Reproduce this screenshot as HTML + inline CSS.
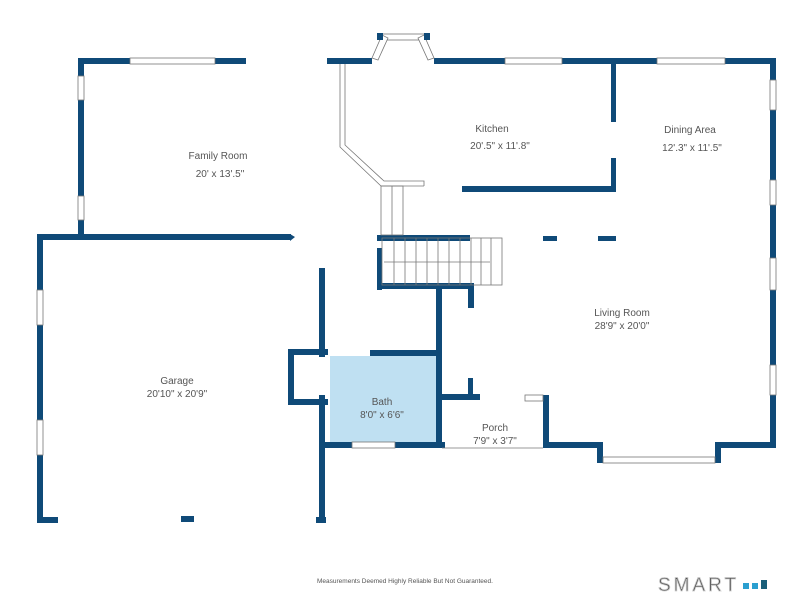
<!DOCTYPE html>
<html><head><meta charset="utf-8"><style>
html,body{margin:0;padding:0;background:#fff;}
svg{display:block;}
text{font-family:"Liberation Sans",sans-serif;fill:#555;}
</style></head><body>
<svg width="792" height="612" viewBox="0 0 792 612" xmlns="http://www.w3.org/2000/svg">
<rect width="792" height="612" fill="#fff"/>
<!-- bath fill -->
<rect x="330" y="356" width="108" height="86" fill="#bfe0f2"/>
<g fill="#0f4a78">
<!-- family room -->
<rect x="78" y="58" width="168" height="6"/>
<rect x="78" y="58" width="6" height="180"/>
<!-- garage -->
<rect x="37" y="234" width="254" height="6"/>
<polygon points="290,234 295,237 290,241"/>
<rect x="37" y="234" width="6" height="289"/>
<rect x="37" y="517" width="21" height="6"/>
<rect x="181" y="516" width="13" height="6"/>
<rect x="319" y="268" width="6" height="89"/>
<rect x="319" y="395" width="6" height="128"/>
<rect x="316" y="517" width="10" height="6"/>
<!-- bath box -->
<rect x="288" y="349" width="6" height="56"/>
<rect x="288" y="349" width="40" height="6"/>
<rect x="288" y="399" width="40" height="6"/>
<rect x="370" y="350" width="70" height="6"/>
<rect x="436" y="285" width="6" height="162"/>
<rect x="325" y="442" width="27" height="6"/>
<rect x="395" y="442" width="50" height="6"/>
<!-- stairs walls -->
<rect x="377" y="235" width="93" height="6"/>
<rect x="377" y="283" width="95" height="6"/>
<rect x="377" y="248" width="5" height="42"/>
<rect x="468" y="283" width="6" height="25"/>
<!-- porch -->
<rect x="442" y="394" width="38" height="6"/>
<rect x="468" y="378" width="5" height="20"/>
<rect x="543" y="395" width="6" height="52"/>
<rect x="543" y="442" width="60" height="6"/>
<rect x="597" y="442" width="6" height="21"/>
<rect x="715" y="442" width="6" height="21"/>
<rect x="715" y="442" width="61" height="6"/>
<!-- right wall -->
<rect x="770" y="58" width="6" height="390"/>
<!-- top walls -->
<rect x="327" y="58" width="45" height="6"/>
<rect x="434" y="58" width="71" height="6"/>
<rect x="562" y="58" width="95" height="6"/>
<rect x="725" y="58" width="51" height="6"/>
<!-- kitchen/dining -->
<rect x="611" y="64" width="5" height="58"/>
<rect x="611" y="158" width="5" height="34"/>
<rect x="462" y="186" width="154" height="6"/>
<rect x="543" y="236" width="14" height="5"/>
<rect x="598" y="236" width="18" height="5"/>
</g>
<!-- windows -->
<g fill="#fff" stroke="#777" stroke-width="0.8">
<rect x="130" y="58" width="85" height="6"/>
<rect x="78" y="76" width="6" height="24"/>
<rect x="78" y="196" width="6" height="24"/>
<rect x="37" y="290" width="6" height="35"/>
<rect x="37" y="420" width="6" height="35"/>
<rect x="352" y="442" width="43" height="6"/>
<rect x="525" y="395" width="18" height="6"/>
<rect x="603" y="457" width="112" height="6"/>
<rect x="505" y="58" width="57" height="6"/>
<rect x="657" y="58" width="68" height="6"/>
<rect x="770" y="80" width="6" height="30"/>
<rect x="770" y="180" width="6" height="25"/>
<rect x="770" y="258" width="6" height="32"/>
<rect x="770" y="365" width="6" height="30"/>
<rect x="381" y="34" width="45" height="6"/>
<polygon points="372,58 378,60 388,38 382,35"/>
<polygon points="434,58 428,60 418,38 424,35"/>
</g>
<g fill="#0f4a78"><rect x="377" y="33" width="6" height="7"/><rect x="424" y="33" width="6" height="7"/></g>
<!-- kitchen counter lines -->
<g fill="none" stroke="#777" stroke-width="0.8">
<polyline points="340,64 340,147 381,186 424,186"/>
<polyline points="345,64 345,145 384,181 424,181 424,186"/>
<rect x="381" y="186" width="22" height="49"/>
<line x1="392" y1="186" x2="392" y2="235"/>
<rect x="382" y="238" width="120" height="47"/>
</g>
<g stroke="#777" stroke-width="0.8">
<line x1="394" y1="238" x2="394" y2="285"/><line x1="405" y1="238" x2="405" y2="285"/>
<line x1="416" y1="238" x2="416" y2="285"/><line x1="427" y1="238" x2="427" y2="285"/>
<line x1="438" y1="238" x2="438" y2="285"/><line x1="449" y1="238" x2="449" y2="285"/>
<line x1="460" y1="238" x2="460" y2="285"/><line x1="471" y1="238" x2="471" y2="285"/>
<line x1="481" y1="238" x2="481" y2="285"/><line x1="491" y1="238" x2="491" y2="285"/>
<line x1="384" y1="262" x2="490" y2="262"/>
<line x1="442" y1="448" x2="543" y2="448"/>
</g>
<g font-size="10" text-anchor="middle">
<text x="218" y="159">Family Room</text>
<text x="220" y="177">20'  x  13'.5"</text>
<text x="492" y="132" fill="#333">Kitchen</text>
<text x="500" y="149" fill="#333">20'.5"  x  11'.8"</text>
<text x="690" y="133">Dining Area</text>
<text x="692" y="151">12'.3"  x  11'.5"</text>
<text x="622" y="316">Living Room</text>
<text x="622" y="329">28'9" x 20'0"</text>
<text x="177" y="384">Garage</text>
<text x="177" y="397">20'10" x 20'9"</text>
<text x="382" y="405" fill="#5a7f9c">Bath</text>
<text x="382" y="418" fill="#5a7f9c">8'0" x 6'6"</text>
<text x="495" y="431">Porch</text>
<text x="495" y="444">7'9" x 3'7"</text>
</g>
<text x="317" y="583" font-size="6.5" fill="#222">Measurements Deemed Highly Reliable But Not Guaranteed.</text>
<text x="658" y="591" font-size="19" fill="none" stroke="#ccc" stroke-width="0.8" letter-spacing="3">SMART</text>
<rect x="743" y="583" width="6" height="6" fill="#2a9fd0"/>
<rect x="752" y="583" width="6" height="6" fill="#2a9fd0"/>
<rect x="761" y="580" width="6" height="9" fill="#1a5f7a"/>
</svg>
</body></html>
